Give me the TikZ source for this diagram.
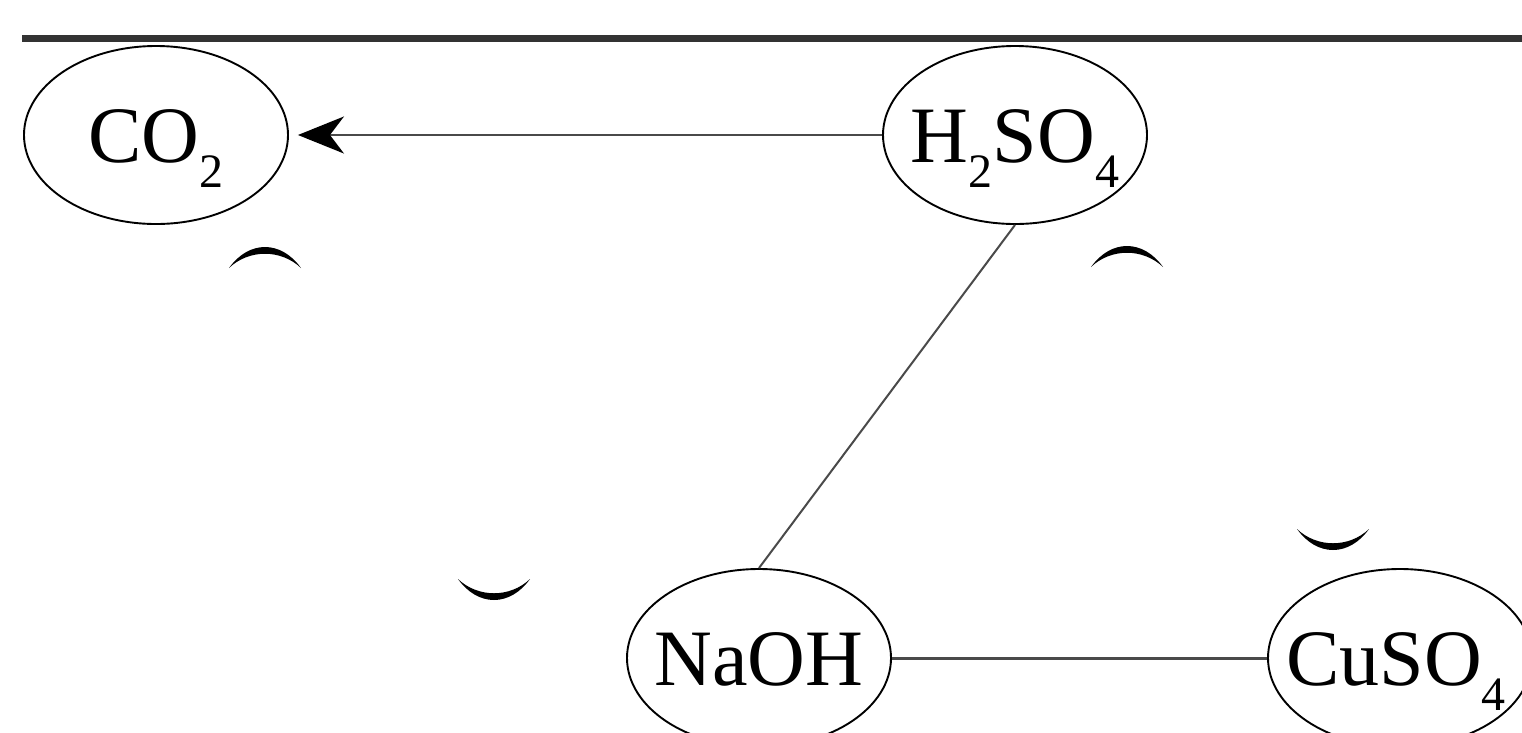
\documentclass[tikz,border=0pt]{standalone}
\usepackage{fontspec}
\setmainfont{Liberation Serif}
\usetikzlibrary{arrows.meta,shapes.geometric}
\definecolor{rulegray}{HTML}{333333}
\definecolor{linkgray}{HTML}{4A4A4A}
\newcommand{\chsub}[1]{\raisebox{-25pt}{\fontsize{48}{48}\selectfont #1}}
\tikzset{
  chem/.style={ellipse, draw=black, line width=1.9pt, minimum width=264pt, minimum height=178pt,
    inner sep=0pt, text height=55pt, text depth=0pt, font=\fontsize{80}{80}\selectfont},
  link/.style={draw=linkgray, line width=2pt},
  thicklink/.style={draw=linkgray, line width=3pt},
  toprule/.style={draw=rulegray, line width=7pt},
  cres/.pic={\fill[black] (-36,0) .. controls (-16,-28) and (16,-28) .. (36,0)
      .. controls (16,-19) and (-16,-19) .. (-36,0) -- cycle;}
}
\begin{document}
\begin{tikzpicture}[x=1pt,y=-1pt]
\useasboundingbox (0,0) rectangle (1522,732);
\coordinate (ruleL) at (22,38);
\coordinate (ruleR) at (1530,38);
\draw[toprule] (ruleL) -- (ruleR);
\node[chem] (co2) at (156,135) {\makebox[0pt]{CO\chsub{2}}};
\node[chem] (h2so4) at (1015,135) {\makebox[0pt]{H\chsub{2}SO\chsub{4}}};
\node[chem] (naoh) at (759,658) {\makebox[0pt]{NaOH}};
\node[chem] (cuso4) at (1400,658) {\makebox[0pt]{\hspace{-8pt}CuSO\chsub{4}}};
\draw[link, -{Stealth[length=46pt, width=37pt, inset=14pt, color=black]}, shorten >=9pt] (h2so4.west) -- (co2.east);
\draw[link] (h2so4.south) -- (naoh.north);
\draw[thicklink] (naoh.east) -- (cuso4.west);
\pic at (265,268) {cres};
\pic at (1127,267) {cres};
\pic[yscale=-1] at (494,579) {cres};
\pic[yscale=-1] at (1333,529) {cres};
\end{tikzpicture}
\end{document}
